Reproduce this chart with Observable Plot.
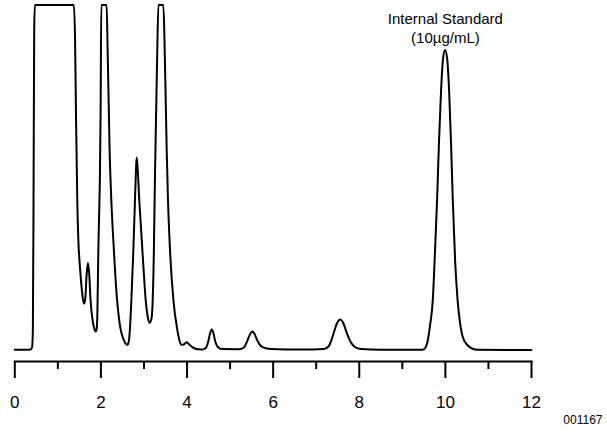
<!DOCTYPE html>
<html>
<head>
<meta charset="utf-8">
<script src="https://cdn.jsdelivr.net/npm/d3@7"></script>
<script src="https://cdn.jsdelivr.net/npm/@observablehq/plot@0.6"></script>
<style>
  html, body { margin: 0; padding: 0; background: #fff; }
</style>
</head>
<body>
<div id="chart"></div>
<script>
// Retention time (min)
const time = [
  0, 0.25, 0.365, 0.40, 0.419, 0.435, 0.451, 0.465, 1.372, 1.40, 1.423, 1.451, 1.481, 1.505, 1.528, 1.563,
  1.605, 1.633, 1.667, 1.698, 1.726, 1.760, 1.807, 1.853, 1.877, 1.900, 1.919, 1.940, 1.958, 1.977, 1.993,
  2.009, 2.133, 2.156, 2.179, 2.202, 2.242, 2.302, 2.358, 2.435, 2.535, 2.614, 2.651, 2.707, 2.753, 2.791,
  2.814, 2.830, 2.853, 2.891, 2.923, 2.963, 3.000, 3.040, 3.086, 3.133, 3.179, 3.202, 3.226, 3.242, 3.256,
  3.279, 3.307, 3.335, 3.451, 3.481, 3.505, 3.528, 3.558, 3.605, 3.684, 3.777, 3.830, 3.877, 3.923, 3.993,
  4.063, 4.156, 4.272, 4.358, 4.435, 4.493, 4.540, 4.574, 4.609, 4.656, 4.714, 4.807, 5.202, 5.319, 5.412,
  5.481, 5.521, 5.563, 5.633, 5.714, 5.830, 5.947, 6.644, 7.179, 7.295, 7.388, 7.481, 7.558, 7.633, 7.714,
  7.807, 7.900, 8.040, 8.505, 9.474, 9.540, 9.591, 9.644, 9.707, 9.760, 9.807, 9.853, 9.900, 9.947, 9.993,
  10.040, 10.086, 10.133, 10.172, 10.226, 10.284, 10.342, 10.405, 10.521, 10.619, 10.754, 12
];
// Detector response (arbitrary units; 344.5 = saturated)
const response = [
  0.2, 0.2, 0.5, 2.5, 19.5, 149.5, 319.5, 344.5, 344.5, 309.5, 229.5, 149.5, 104.5, 87.5, 74.5, 57.5,
  46.2, 49.5, 74.5, 86.8, 77.5, 49.5, 29.5, 20.5, 18.5, 20.5, 39.5, 99.5, 134.5, 174.5, 239.5,
  344.5, 344.5, 299.5, 249.5, 199.5, 149.5, 99.5, 59.5, 26.5, 9.5, 5, 9.5, 49.5, 99.5, 149.5,
  179.5, 192.2, 181.5, 149.5, 127.5, 99.5, 74.5, 49.5, 33.5, 27.2, 32.5, 49.5, 89.5, 134.5, 174.5,
  229.5, 294.5, 344.5, 344.5, 299.5, 249.5, 199.5, 149.5, 99.5, 49.5, 19.5, 8.5, 5.2, 5.5, 7.8,
  5, 2, 0.7, 0.5, 2, 8.5, 17.5, 20.8, 17.5, 8.5, 3, 0.9, 0.8, 2.5, 10.5,
  17, 18.5, 16.5, 9.5, 4, 1.7, 1, 0.5, 1, 4, 14.5, 26.5, 30.5, 26.5, 16.5,
  7.5, 3, 1, 0.2, 0.2, 2.5, 9.5, 24.5, 49.5, 99.5, 149.5, 209.5, 259.5, 291.5, 299.5,
  291.5, 259.5, 204.5, 149.5, 89.5, 49.5, 26.5, 12.8, 4.5, 1.5, 0.2, 0
];
const majorTicks = [0, 2, 4, 6, 8, 10, 12];
const minorTicks = [1, 3, 5, 7, 9, 11];
const peakLabelTime = 10;
const peakLabelLines = ["Internal Standard", "(10µg/mL)"];
const figureCode = "001167";

const data = time.map((t, i) => ({t, r: response[i]}));

const chart = Plot.plot({
  width: 607,
  height: 434,
  marginLeft: 14.3,
  marginRight: 76,
  marginTop: 0,
  marginBottom: 73,
  style: {fontFamily: "'Liberation Sans', Arial, sans-serif", background: "#fff", color: "#000"},
  x: {domain: [0, 12]},
  y: {domain: [0, 344.5], range: [349.5, 4.5], axis: null},
  marks: [
    Plot.frame({anchor: "bottom", stroke: "#000", strokeWidth: 2}),
    Plot.axisX({ticks: majorTicks, tickSize: 17, tickPadding: 17, fontSize: 17, label: null, strokeWidth: 2, stroke: "#000"}),
    Plot.axisX({ticks: minorTicks, tickSize: 8, tickFormat: () => "", label: null, strokeWidth: 2, stroke: "#000"}),
    Plot.line(data, {x: "t", y: "r", curve: "monotone-x", stroke: "#000", strokeWidth: 2}),
    Plot.text([peakLabelLines[0]], {x: () => peakLabelTime, frameAnchor: "top", dy: 19, lineAnchor: "middle", fontSize: 15, text: d => d, fill: "#000", style: "word-spacing:-3px"}),
    Plot.text([peakLabelLines[1]], {x: () => peakLabelTime, frameAnchor: "top", dy: 37.7, lineAnchor: "middle", fontSize: 15, text: d => d, fill: "#000"}),
    Plot.text([figureCode], {frameAnchor: "bottom-right", dx: 71, dy: 62, textAnchor: "end", lineAnchor: "bottom", fontSize: 12, text: d => d, fill: "#000"})
  ]
});
document.getElementById("chart").appendChild(chart);
</script>
</body>
</html>
